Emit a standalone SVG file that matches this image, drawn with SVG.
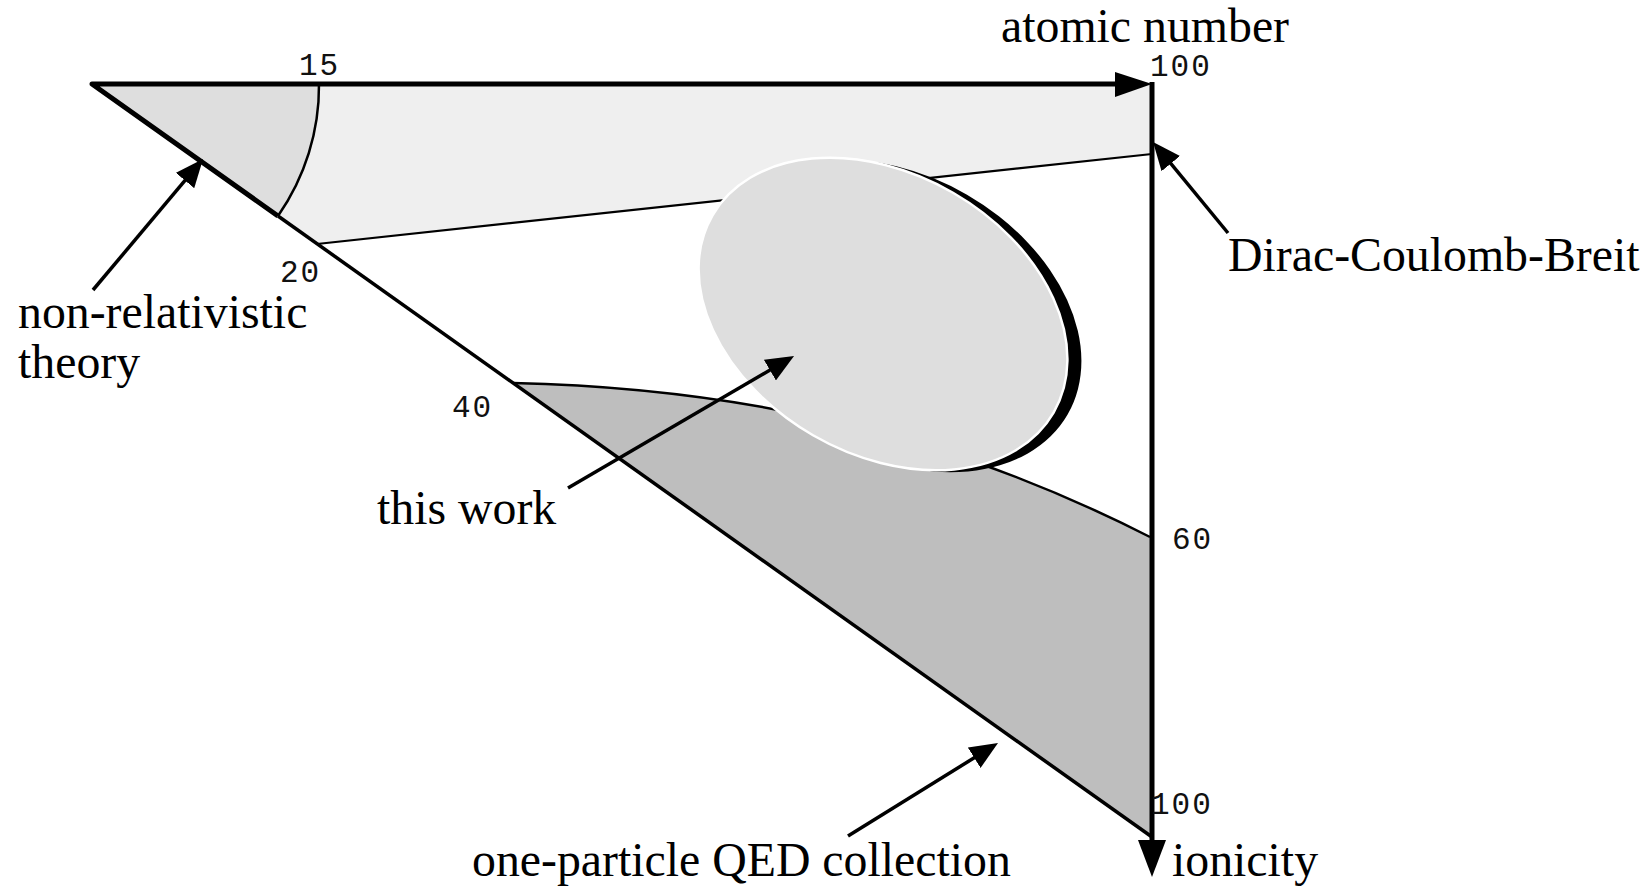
<svg xmlns="http://www.w3.org/2000/svg" width="1651" height="891" viewBox="0 0 1651 891">
  <style>
    .lbl { font-family: "Liberation Serif", "Times New Roman", serif; font-size: 47.8px; fill: #000; }
    .num { font-family: "Liberation Mono", "Courier New", monospace; font-size: 31px; letter-spacing: 2px; fill: #111; }
    .axis { stroke: #000; stroke-width: 5; fill: none; stroke-linejoin: round; }
    .edge { stroke: #000; fill: none; }
    .arr { stroke: #000; stroke-width: 3.5; fill: none; marker-end: url(#ah); }
  </style>
  <defs>
    <marker id="ah" markerUnits="userSpaceOnUse" markerWidth="28" markerHeight="24" refX="18" refY="12" orient="auto">
      <path d="M0,0 L28,12 L0,24 Z" fill="#000"/>
    </marker>
  </defs>
  <rect width="1651" height="891" fill="#fff"/>

  <g id="regions">
    <path id="dcb-region" d="M92,84 L1152,84 L1152,154 L317,244 Z" fill="#efefef"/>
    <path id="nonrel-region" d="M92,84 L319,84 A227,227 0 0 1 278,216 Z" fill="#dedede"/>
    <path id="qed-region" d="M513,383 C843,390 1050,486 1150,537 L1152,537 L1152,837 Z" fill="#bebebe"/>
    <path class="edge" d="M317,244 L1152,154" stroke-width="2.2"/>
    <path class="edge" d="M319,84 A227,227 0 0 1 278,216" stroke-width="2.5"/>
    <path class="edge" d="M513,383 C843,390 1050,486 1150,537" stroke-width="2.5"/>
  </g>

  <g id="this-work-region">
    <ellipse cx="897" cy="316" rx="197" ry="140" transform="rotate(30 897 316)" fill="#000"/>
    <ellipse cx="883" cy="314" rx="197" ry="140" transform="rotate(30 883 314)" fill="#dedede" stroke="#fff" stroke-width="2.5"/>
  </g>

  <g id="axes">
    <path class="axis" d="M1120,84 L92,84 L278,216"/>
    <path class="edge" d="M278,216 L1152,837" stroke-width="3.5"/>
    <path class="axis" d="M1152,82 L1152,845" stroke-linejoin="miter"/>
    <polygon points="1115,72 1152,84 1115,97" fill="#000"/>
    <polygon points="1138,840 1166,840 1152,877" fill="#000"/>
  </g>

  <g id="connectors">
    <line class="arr" x1="93" y1="290" x2="196.6" y2="166.7"/>
    <line class="arr" x1="1228" y1="233" x2="1159.4" y2="149.7"/>
    <line class="arr" x1="568" y1="488" x2="785.4" y2="361"/>
    <line class="arr" x1="848" y1="836" x2="989.5" y2="748.3"/>
  </g>

  <g id="ticks">
    <text class="num" x="299" y="75">15</text>
    <text class="num" x="1150" y="76">100</text>
    <text class="num" x="280" y="282">20</text>
    <text class="num" x="452" y="417">40</text>
    <text class="num" x="1172" y="549">60</text>
    <text class="num" x="1151" y="814">100</text>
  </g>

  <g id="labels">
    <text id="atomic-number" class="lbl" x="1001" y="42">atomic number</text>
    <text id="dcb" class="lbl" x="1228" y="271">Dirac-Coulomb-Breit</text>
    <text id="nonrel" class="lbl" x="18" y="328">non-relativistic</text>
    <text id="nonrel2" class="lbl" x="18" y="378">theory</text>
    <text id="this-work" class="lbl" x="377" y="524">this work</text>
    <text id="qed" class="lbl" x="472" y="876">one-particle QED collection</text>
    <text id="ionicity" class="lbl" x="1172" y="876">ionicity</text>
  </g>
</svg>
